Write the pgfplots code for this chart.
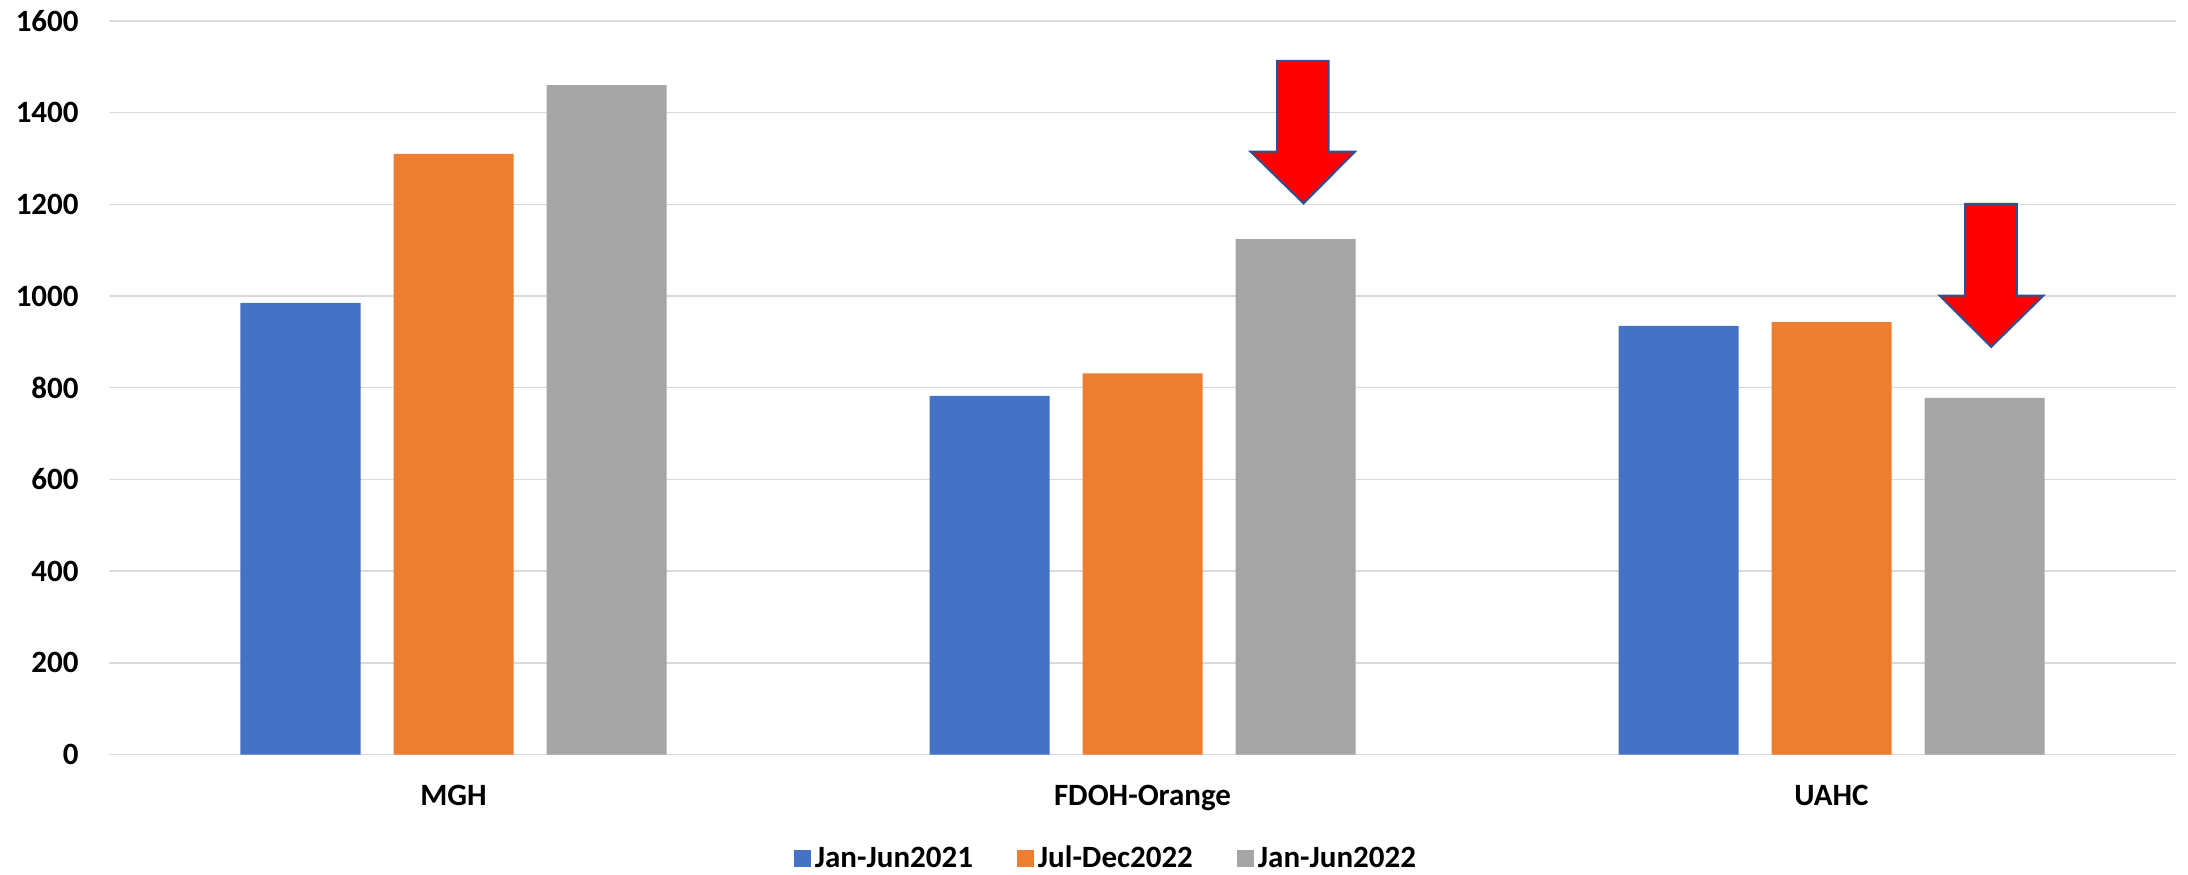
\documentclass[border=0pt]{standalone}
\usepackage{pgfplots}
\pgfplotsset{compat=1.18}
\usepackage{fontspec}
\setmainfont{Carlito}
\definecolor{cblue}{HTML}{4472C4}
\definecolor{corange}{HTML}{ED7D31}
\definecolor{cgray}{HTML}{A5A5A5}
\definecolor{cgrid}{HTML}{D9D9D9}
\definecolor{aedge}{HTML}{2F528F}
\begin{document}
\begin{tikzpicture}
\path[use as bounding box] (-54.5pt,-59.75pt) rectangle (1039.5pt,377.25pt);
\begin{axis}[
  at={(0pt,0pt)}, anchor=south west,
  scale only axis, width=1033.5pt, height=366.8pt,
  xmin=-0.5, xmax=2.5, ymin=0, ymax=1600,
  ytick={0,200,...,1600},
  xtick={0,1,2}, xticklabels={MGH,FDOH-Orange,UAHC},
  ymajorgrids, grid style={cgrid, line width=0.75pt},
  axis line style={draw=none},
  major tick length=0pt,
  ybar=16.5pt, bar width=60pt,
  /pgf/number format/assume math mode=true,
  /pgf/number format/1000 sep={},
  ticklabel style={font=\bfseries\fontsize{15.5}{15.5}\selectfont},
  yticklabel style={anchor=east, inner sep=0pt, xshift=-15pt},
  xticklabel style={anchor=base, inner sep=0pt, yshift=-25.5pt},
  legend style={at={(0.4828,-0.1418)}, anchor=center, draw=none, fill=none,
    font=\bfseries\fontsize{15.5}{15.5}\selectfont, legend columns=-1,
    /tikz/every even column/.append style={column sep=20pt}},
  legend image code/.code={\fill[#1] (0pt,-4.25pt) rectangle (8.5pt,4.25pt);},
]
\addplot[fill=cblue, draw=none] coordinates {(0,985) (1,782) (2,935)};
\addplot[fill=corange, draw=none] coordinates {(0,1310) (1,831) (2,943)};
\addplot[fill=cgray, draw=none] coordinates {(0,1460) (1,1124) (2,778)};
\legend{Jan-Jun2021, Jul-Dec2022, Jan-Jun2022}
\draw[fill=red, draw=aedge, line width=1pt, line join=miter]
  (axis cs:1.1955,1513) -- (axis cs:1.2700,1513) -- (axis cs:1.2700,1315)
  -- (axis cs:1.3087,1315) -- (axis cs:1.2337,1202) -- (axis cs:1.1567,1315)
  -- (axis cs:1.1955,1315) -- cycle;
\draw[fill=red, draw=aedge, line width=1pt, line join=miter]
  (axis cs:2.1940,1201) -- (axis cs:2.2689,1201) -- (axis cs:2.2689,1001)
  -- (axis cs:2.3077,1001) -- (axis cs:2.2318,889) -- (axis cs:2.1567,1001)
  -- (axis cs:2.1940,1001) -- cycle;
\end{axis}
\end{tikzpicture}
\end{document}
